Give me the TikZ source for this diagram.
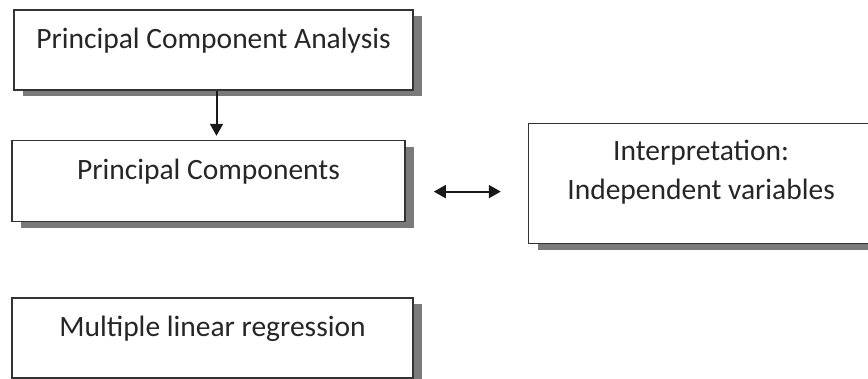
\documentclass[tikz,border=0pt]{standalone}
\usepackage{fontspec}
\setmainfont{Carlito}
\usetikzlibrary{arrows.meta,positioning,shadows,calc}

\begin{document}
\begin{tikzpicture}[x=1pt,y=-1pt,>={Triangle[width=13pt,length=12pt]},
  box/.style={draw=black!80,line width=1.6pt,fill=white,inner sep=0pt,
    font=\fontsize{29.5}{39}\selectfont,text=black!85,align=center,
    text height=21pt,text depth=25pt,
    drop shadow={shadow xshift=9pt,shadow yshift=-6pt,fill=black!52,opacity=1}},
  link/.style={line width=2pt,black!90}]
  \useasboundingbox (0,0) rectangle (868,378);
  \node[box,minimum width=399pt,minimum height=80pt] (pca) at (213.5,50) {Principal Component Analysis};
  \node[box,minimum width=393pt,minimum height=81pt,below=49pt of pca,xshift=-5pt] (pc) {Principal Components};
  \node[box,minimum width=345pt,minimum height=120pt,right=122pt of pc,yshift=-2.5pt,
    text height=57pt] (interp) {Interpretation:\\Independent variables};
  \node[box,minimum width=401pt,minimum height=80pt,below=75pt of pc,xshift=4pt] (mlr) {Multiple linear regression};

  \draw[->,link,shorten >=4pt] ([xshift=3pt]pca.south) -- ([xshift=3pt]pca.south |- pc.north);
  \draw[<->,link] ($(pc.east)+(28,10.5)$) -- ($(interp.west)+(-27,8)$);
\end{tikzpicture}
\end{document}
